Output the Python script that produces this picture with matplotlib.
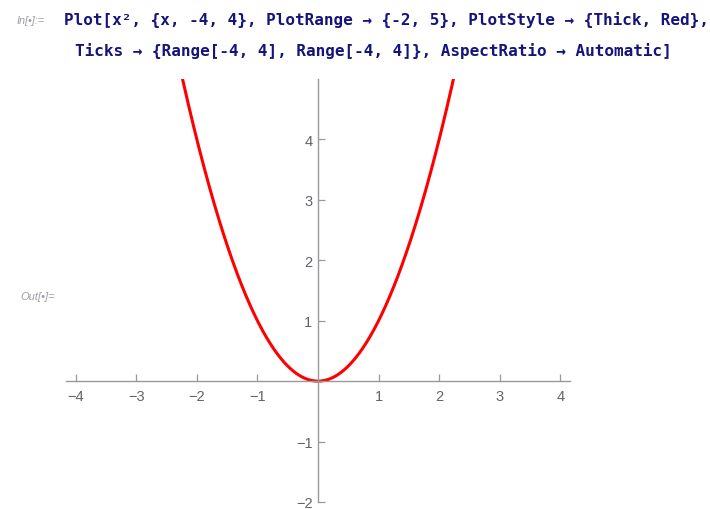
import numpy as np
import matplotlib
matplotlib.use("Agg")
import matplotlib.pyplot as plt

# Plot settings taken from the input cell
x_domain = [-4, 4]
plot_range = [-2, 5]
x_ticks = [-4, -3, -2, -1, 1, 2, 3, 4]
y_ticks = [-2, -1, 1, 2, 3, 4]

input_lines = [
    "Plot[x², {x, -4, 4}, PlotRange → {-2, 5}, PlotStyle → {Thick, Red},",
    "Ticks → {Range[-4, 4], Range[-4, 4]}, AspectRatio → Automatic]",
]

W, H = 710, 510
fig = plt.figure(figsize=(W / 100, H / 100), dpi=100)
fig.patch.set_facecolor("white")

# Input cell text
code_color = "#14147a"
label_color = "#9c9ca6"
fig.text(17 / W, 1 - 24 / H, "In[•]:=", fontsize=7.8, style="italic",
         color=label_color, family="Liberation Sans", va="baseline")
fig.text(64 / W, 1 - 25 / H, input_lines[0], fontsize=11.5, weight="bold",
         color=code_color, family="DejaVu Sans Mono", va="baseline")
fig.text(75 / W, 1 - 56 / H, input_lines[1], fontsize=11.5, weight="bold",
         color=code_color, family="DejaVu Sans Mono", va="baseline")
fig.text(20 / W, 1 - 297 / H, "Out[•]=", fontsize=8, style="italic",
         color=label_color, family="Liberation Sans", va="center")

# Output graphic
left, right = 66 / W, 570 / W
bottom, top = 1 - 503 / H, 1 - 80 / H
ax = fig.add_axes([left, bottom, right - left, top - bottom])
ax.set_facecolor("none")

pad = 0.02 * (x_domain[1] - x_domain[0])
ax.set_xlim(x_domain[0] - pad, x_domain[1] + pad)
ax.set_ylim(*plot_range)

xs = np.linspace(x_domain[0], x_domain[1], 801)
ax.plot(xs, xs ** 2, color="#ff0000", lw=2.2, solid_capstyle="butt")

axis_color = "#999999"
for side in ("top", "right"):
    ax.spines[side].set_visible(False)
ax.spines["left"].set_position(("data", 0))
ax.spines["bottom"].set_position(("data", 0))
for side in ("left", "bottom"):
    ax.spines[side].set_color(axis_color)
    ax.spines[side].set_linewidth(1.0)

ax.set_xticks(x_ticks)
ax.set_yticks(y_ticks)
ax.tick_params(axis="both", direction="in", length=5, width=0.9,
               color=axis_color, labelcolor="#62626c", labelsize=10.5)
ax.tick_params(axis="x", pad=6)
ax.tick_params(axis="y", pad=4)
for lbl in ax.get_xticklabels() + ax.get_yticklabels():
    lbl.set_family("Liberation Sans")

fig.savefig("out.png", dpi=100)
